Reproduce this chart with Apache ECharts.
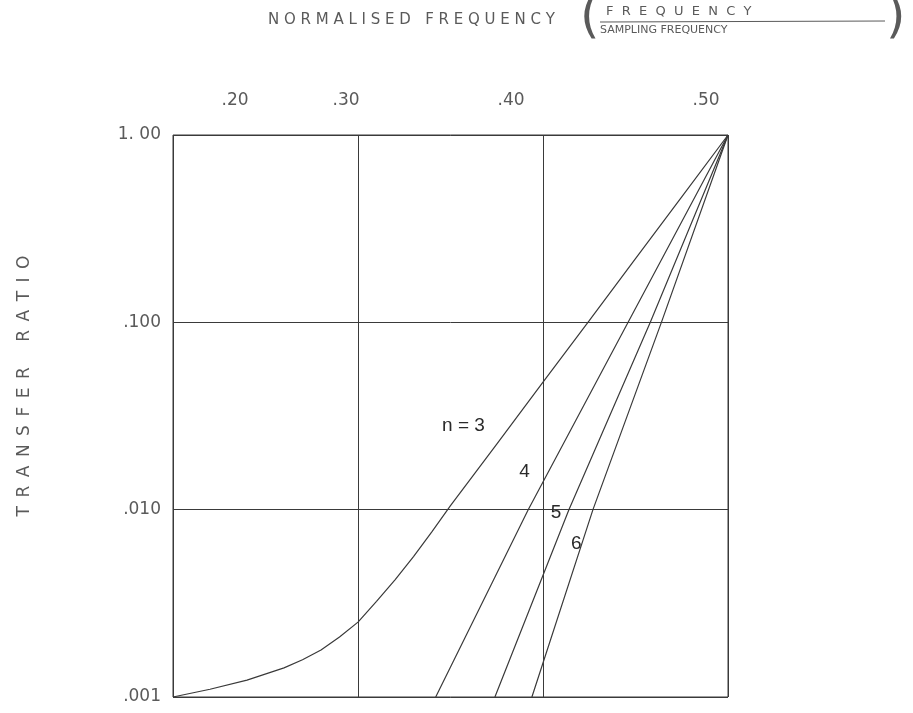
<!DOCTYPE html>
<html>
<head>
<meta charset="utf-8">
<script src="https://cdn.jsdelivr.net/npm/echarts@6/dist/echarts.min.js"></script>
<style>
  html, body { margin: 0; padding: 0; background: #fff; }
  #main { width: 913px; height: 713px; }
</style>
</head>
<body>
<div id="main"></div>
<script>
// normalised frequency (f / fs) against transfer ratio, one curve per filter order
var xTicks = [0.2, 0.3, 0.4, 0.5];
var xTickText = ['.20', '.30', '.40', '.50'];
var yTicks = [0.001, 0.01, 0.1, 1];
var yTickText = ['.001', '.010', '.100', '1. 00'];

var n3 = [[0.20, 0.00100], [0.22, 0.00110], [0.24, 0.00123], [0.26, 0.00143], [0.27, 0.00158],
          [0.28, 0.00178], [0.29, 0.00209], [0.30, 0.00251], [0.31, 0.00324], [0.32, 0.00422],
          [0.33, 0.00562], [0.34, 0.00764], [0.35, 0.0105], [0.375, 0.0224], [0.40, 0.0479],
          [0.425, 0.102], [0.45, 0.219], [0.475, 0.468], [0.50, 1.0]];
var n4 = [[0.342, 0.001], [0.392, 0.01], [0.446, 0.1], [0.50, 1.0]];
var n5 = [[0.374, 0.001], [0.414, 0.01], [0.458, 0.1], [0.50, 1.0]];
var n6 = [[0.394, 0.001], [0.427, 0.01], [0.464, 0.1], [0.50, 1.0]];

// where the order labels sit (data coords)
var orderLabels = [
  { text: 'n = 3', at: [0.357, 0.028] },
  { text: '4', at: [0.390, 0.016] },
  { text: '5', at: [0.407, 0.0096] },
  { text: '6', at: [0.418, 0.0066] }
];

var ink = '#3a3a3a';
var lightInk = '#5a5a5a';

// typed top labels are not centred on the gridlines
var xLabelShift = [62, -12, -32, -22];
var rich = {};
xLabelShift.forEach(function (s, i) {
  rich['o' + i] = {
    fontFamily: 'DejaVu Sans', fontSize: 17, color: lightInk,
    padding: s > 0 ? [0, 0, 0, 2 * s] : [0, -2 * s, 0, 0]
  };
});

function curve(name, data, lbl) {
  return {
    name: name,
    type: 'line',
    data: data,
    showSymbol: false,
    lineStyle: { color: ink, width: 1.2 },
    markPoint: {
      symbol: 'circle', symbolSize: 0,
      label: {
        show: true, formatter: lbl.text, color: '#2a2a2a',
        fontFamily: 'Liberation Sans', fontSize: 19
      },
      data: [{ coord: lbl.at }]
    }
  };
}

var sp = '\u2002';
var yName = 'TRANSFER'.split('').join(sp) + sp + sp + sp + 'RATIO'.split('').join(sp);

var myChart = echarts.init(document.getElementById('main'));

var option = {
  backgroundColor: '#fff',
  animation: false,
  grid: {
    left: 173, right: 185, top: 135, bottom: 16,
    show: true, borderColor: ink, borderWidth: 1
  },
  xAxis: {
    type: 'value',
    position: 'top',
    min: 0.2, max: 0.5, interval: 0.1,
    axisLine: { show: false },
    axisTick: { show: false },
    splitLine: { show: true, lineStyle: { color: ink, width: 1 } },
    axisLabel: {
      margin: 26,
      showMinLabel: true, showMaxLabel: true,
      formatter: function (v) {
        var i = xTicks.findIndex(function (t) { return Math.abs(t - v) < 1e-6; });
        return i < 0 ? '' : '{o' + i + '|' + xTickText[i] + '}';
      },
      rich: rich
    }
  },
  yAxis: {
    type: 'log',
    logBase: 10,
    min: 0.001, max: 1,
    name: yName,
    nameLocation: 'middle',
    nameGap: 140,
    nameTextStyle: { fontFamily: 'DejaVu Sans', fontSize: 17, color: lightInk, padding: [0, 0, 0, 60] },
    axisLine: { show: false },
    axisTick: { show: false },
    splitLine: { show: true, lineStyle: { color: ink, width: 1 } },
    axisLabel: {
      margin: 12,
      fontFamily: 'DejaVu Sans', fontSize: 17, color: lightInk,
      formatter: function (v) {
        var i = yTicks.findIndex(function (t) { return Math.abs(Math.log10(t) - Math.log10(v)) < 1e-6; });
        return i < 0 ? '' : yTickText[i];
      }
    }
  },
  graphic: [
    {
      type: 'text', left: 268, top: 13,
      style: { text: 'N O R M A L I S E D   F R E Q U E N C Y', fontFamily: 'DejaVu Sans', fontSize: 15, fill: lightInk }
    },
    {
      type: 'text', left: 580, top: -6,
      style: { text: '(', fontFamily: 'DejaVu Sans', fontSize: 50, fill: lightInk }
    },
    {
      type: 'text', left: 606, top: 5,
      style: { text: 'F  R  E  Q  U  E  N  C  Y', fontFamily: 'DejaVu Sans', fontSize: 13, fill: lightInk }
    },
    {
      type: 'line', shape: { x1: 600, y1: 22, x2: 885, y2: 21 },
      style: { stroke: lightInk, lineWidth: 1 }
    },
    {
      type: 'text', left: 600, top: 25,
      style: { text: 'SAMPLING FREQUENCY', fontFamily: 'DejaVu Sans', fontSize: 11, fill: lightInk }
    },
    {
      type: 'text', left: 886, top: -6,
      style: { text: ')', fontFamily: 'DejaVu Sans', fontSize: 50, fill: lightInk }
    }
  ],
  series: [
    curve('n=3', n3, orderLabels[0]),
    curve('n=4', n4, orderLabels[1]),
    curve('n=5', n5, orderLabels[2]),
    curve('n=6', n6, orderLabels[3])
  ]
};

myChart.setOption(option);
</script>
</body>
</html>
